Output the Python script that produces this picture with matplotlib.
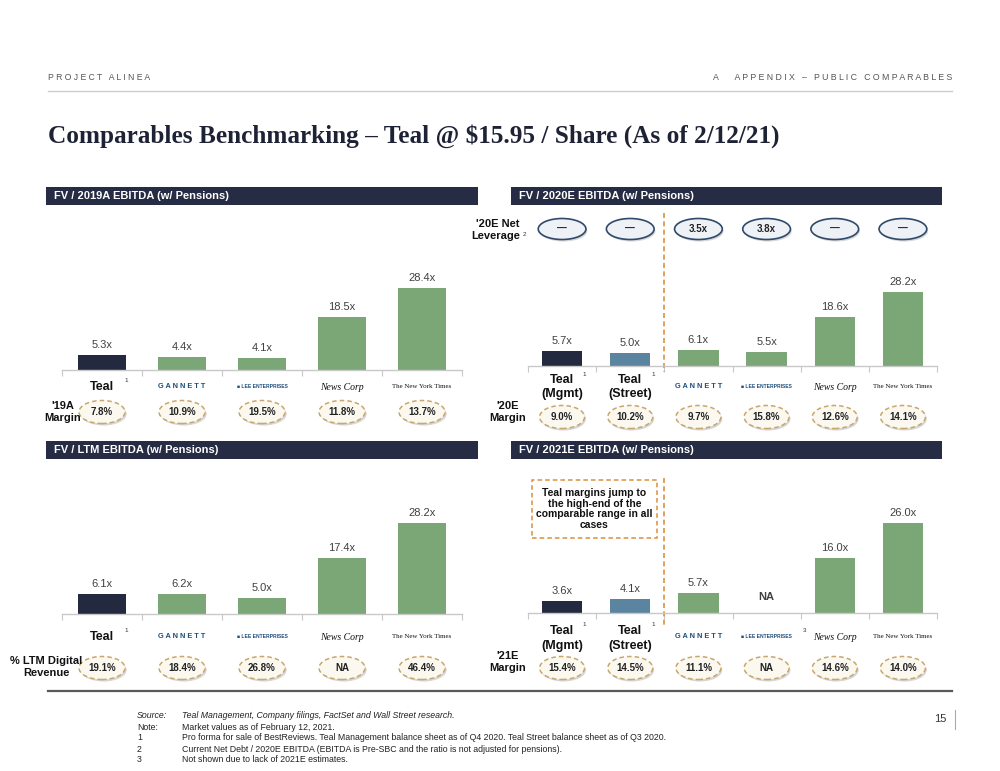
import numpy as np
import matplotlib.pyplot as plt
from matplotlib.patches import Ellipse, Rectangle
from matplotlib.lines import Line2D
from matplotlib.transforms import blended_transform_factory

# ---- data ----
fv_2019 = [5.3, 4.4, 4.1, 18.5, 28.4]
margin_2019 = ['7.8%', '10.9%', '19.5%', '11.8%', '13.7%']

fv_2020 = [5.7, 5.0, 6.1, 5.5, 18.6, 28.2]
leverage_2020 = ['—', '—', '3.5x', '3.8x', '—', '—']
margin_2020 = ['9.0%', '10.2%', '9.7%', '15.8%', '12.6%', '14.1%']

fv_ltm = [6.1, 6.2, 5.0, 17.4, 28.2]
digital_ltm = ['19.1%', '18.4%', '26.8%', 'NA', '46.4%']

fv_2021 = [3.6, 4.1, 5.7, np.nan, 16.0, 26.0]
margin_2021 = ['15.4%', '14.5%', '11.1%', 'NA', '14.6%', '14.0%']

peers = ['GANNETT', 'LEE ENTERPRISES', 'News Corp', 'The New York Times']

NAVY = '#232A40'
STREET = '#5B84A0'
GREEN = '#7BA776'
HEAD = '#262C43'
ORANGE = '#D9913E'
TAN = '#C9A66B'
GREY_TXT = '#404040'

NARROW = ['Liberation Sans Narrow', 'Liberation Sans', 'DejaVu Sans']
SANS = ['Liberation Sans', 'DejaVu Sans']

fig = plt.figure(figsize=(10, 7.71), dpi=100)
W, H = 1000, 771


def fx(px):
    return px / W


def fy(py):
    return 1 - py / H


# ---- page furniture ----
fig.text(fx(48), fy(77), ' '.join('PROJECT ALINEA'), fontsize=6.2, color='#555555',
         family=SANS, va='center', ha='left')
fig.text(fx(952), fy(77), ' '.join('A   APPENDIX – PUBLIC COMPARABLES'), fontsize=6.3,
         color='#555555', family=SANS, va='center', ha='right')
fig.add_artist(Line2D([fx(48), fx(952)], [fy(91), fy(91)], color='#cccccc', lw=1))
fig.text(fx(48), fy(136), 'Comparables Benchmarking – Teal @ $15.95 / Share (As of 2/12/21)',
         fontsize=18.2, color='#1e2235', family=['Liberation Serif', 'DejaVu Serif'],
         weight='bold', va='center', ha='left')

# panel header bars
headers = [(46, 478, 187, 'FV / 2019A EBITDA (w/ Pensions)'),
           (511, 942, 187, 'FV / 2020E EBITDA (w/ Pensions)'),
           (46, 478, 441, 'FV / LTM EBITDA (w/ Pensions)'),
           (511, 942, 441, 'FV / 2021E EBITDA (w/ Pensions)')]
for x0, x1, y0, txt in headers:
    fig.add_artist(Rectangle((fx(x0), fy(y0 + 18)), fx(x1 - x0), 18 / H,
                             facecolor=HEAD, edgecolor='none'))
    fig.text(fx(x0 + 8), fy(y0 + 9), txt, color='white', fontsize=8, weight='bold',
             family=SANS, va='center', ha='left')


def draw_logo(ax, i, ypx, name):
    tr = blended_transform_factory(ax.transData, fig.transFigure)
    if name == 'GANNETT':
        ax.text(i, fy(ypx), 'G A N N E T T', transform=tr, ha='center', va='center',
                fontsize=5.3, color='#1F4E79', family=SANS, weight='bold', clip_on=False)
    elif name == 'LEE ENTERPRISES':
        ax.text(i, fy(ypx), '\u25A0 LEE ENTERPRISES', transform=tr, ha='center', va='center',
                fontsize=3.6, color='#1F4E79', family=SANS, weight='bold', clip_on=False)
    elif name == 'News Corp':
        ax.text(i, fy(ypx), 'News Corp', transform=tr, ha='center', va='center',
                fontsize=7, color='#111111', family=['Liberation Serif', 'DejaVu Serif'],
                style='italic', clip_on=False)
    else:
        ax.text(i, fy(ypx), 'The New York Times', transform=tr, ha='center', va='center',
                fontsize=5, color='#111111', family=['Liberation Serif', 'DejaVu Serif'],
                clip_on=False)


def oval(ax, i, ypx, text, wdata, kind='margin'):
    tr = blended_transform_factory(ax.transData, fig.transFigure)
    hgt = 23 / H if kind == 'margin' else 21 / H
    shadow = Ellipse((i + 0.02, fy(ypx + 2)), wdata, hgt, transform=tr,
                     facecolor='#d6d6d6', edgecolor='none', clip_on=False, zorder=3)
    ax.add_patch(shadow)
    if kind == 'margin':
        e = Ellipse((i, fy(ypx)), wdata, hgt, transform=tr, facecolor='#FBF8F0',
                    edgecolor=TAN, lw=1.1, linestyle=(0, (3, 2)), clip_on=False, zorder=4)
    else:
        e = Ellipse((i, fy(ypx)), wdata, hgt, transform=tr, facecolor='#EEF1F5',
                    edgecolor='#2F4A6B', lw=1.2, clip_on=False, zorder=4)
    ax.add_patch(e)
    ax.text(i, fy(ypx), text, transform=tr, ha='center', va='center', fontsize=7,
            weight='bold', color='#222222', family=NARROW, clip_on=False, zorder=5)


def bar_panel(left, right, base, top, per_unit, values, colors, n):
    ax = fig.add_axes([fx(left), fy(base), fx(right - left), (base - top) / H])
    x = np.arange(n)
    vals = np.array(values, dtype=float)
    ax.bar(x, np.nan_to_num(vals), width=0.59, color=colors, zorder=2)
    for i, v in enumerate(vals):
        if np.isnan(v):
            ax.annotate('NA', (i, 0), xytext=(0, 8), textcoords='offset points',
                        ha='center', va='bottom', fontsize=8, weight='bold',
                        color=GREY_TXT, family=NARROW)
        else:
            ax.annotate(f'{v:.1f}x', (i, v), xytext=(0, 3.5), textcoords='offset points',
                        ha='center', va='bottom', fontsize=8, color=GREY_TXT, family=NARROW)
    ax.set_xlim(-0.5, n - 0.5)
    ax.set_ylim(0, (base - top) / per_unit)
    for s in ['top', 'right', 'left']:
        ax.spines[s].set_visible(False)
    ax.spines['bottom'].set_color('#c8c8c8')
    ax.spines['bottom'].set_linewidth(1)
    ax.set_yticks([])
    ax.set_xticks(np.arange(-0.5, n, 1.0))
    ax.tick_params(axis='x', length=4, color='#c8c8c8', labelbottom=False)
    ax.patch.set_alpha(0)
    return ax


def teal_label(ax, i, ypx, text):
    tr = blended_transform_factory(ax.transData, fig.transFigure)
    ax.text(i, fy(ypx), text, transform=tr, ha='center', va='center', fontsize=9,
            weight='bold', color='#111111', family=NARROW, clip_on=False)


def sup(ax, i, ypx, text):
    tr = blended_transform_factory(ax.transData, fig.transFigure)
    ax.text(i, fy(ypx), text, transform=tr, ha='center', va='center', fontsize=4.5,
            color='#333333', family=SANS, clip_on=False)


# ---- top-left: 2019A ----
ax1 = bar_panel(62, 462, 370, 210, 2.89, fv_2019, [NAVY] + [GREEN] * 4, 5)
teal_label(ax1, 0, 387, 'Teal')
sup(ax1, 0.3, 381, '1')
for k, p in enumerate(peers):
    draw_logo(ax1, k + 1, 387, p)
for i, m in enumerate(margin_2019):
    oval(ax1, i, 412, m, 0.575)
fig.text(fx(63), fy(412), "'19A\nMargin", ha='center', va='center', fontsize=8,
         weight='bold', family=NARROW, color='#111111', linespacing=1.15)

# ---- top-right: 2020E ----
ax2 = bar_panel(528, 937, 366, 250, 2.62, fv_2020, [NAVY, STREET] + [GREEN] * 4, 6)
teal_label(ax2, 0, 380, 'Teal')
teal_label(ax2, 0, 394, '(Mgmt)')
teal_label(ax2, 1, 380, 'Teal')
teal_label(ax2, 1, 394, '(Street)')
sup(ax2, 0.33, 374, '1')
sup(ax2, 1.33, 374, '1')
for k, p in enumerate(peers):
    draw_logo(ax2, k + 2, 387, p)
for i, m in enumerate(margin_2020):
    oval(ax2, i, 417, m, 0.66)
for i, lv in enumerate(leverage_2020):
    oval(ax2, i, 229, lv, 0.70, kind='lev')
tr2 = blended_transform_factory(ax2.transData, fig.transFigure)
ax2.add_line(Line2D([1.5, 1.5], [fy(213), fy(372)], transform=tr2, color=ORANGE,
                    lw=1.2, linestyle=(0, (3, 2)), clip_on=False))
fig.text(fx(508), fy(412), "'20E\nMargin", ha='center', va='center', fontsize=8,
         weight='bold', family=NARROW, color='#111111', linespacing=1.15)
fig.text(fx(520), fy(230), "'20E Net\nLeverage", ha='right', va='center', fontsize=8,
         weight='bold', family=NARROW, color='#111111', linespacing=1.15)
fig.text(fx(524), fy(235), '2', ha='center', va='center', fontsize=4.5, color='#333333',
         family=SANS)

# ---- bottom-left: LTM ----
ax3 = bar_panel(62, 462, 614, 470, 3.23, fv_ltm, [NAVY] + [GREEN] * 4, 5)
teal_label(ax3, 0, 637, 'Teal')
sup(ax3, 0.3, 631, '1')
for k, p in enumerate(peers):
    draw_logo(ax3, k + 1, 637, p)
for i, m in enumerate(digital_ltm):
    oval(ax3, i, 668, m, 0.575)
fig.text(fx(46), fy(667), '% LTM Digital\nRevenue', ha='center', va='center', fontsize=8,
         weight='bold', family=NARROW, color='#111111', linespacing=1.15)

# ---- bottom-right: 2021E ----
ax4 = bar_panel(528, 937, 613, 470, 3.46, fv_2021, [NAVY, STREET] + [GREEN] * 4, 6)
teal_label(ax4, 0, 631, 'Teal')
teal_label(ax4, 0, 646, '(Mgmt)')
teal_label(ax4, 1, 631, 'Teal')
teal_label(ax4, 1, 646, '(Street)')
sup(ax4, 0.33, 625, '1')
sup(ax4, 1.33, 625, '1')
for k, p in enumerate(peers):
    draw_logo(ax4, k + 2, 637, p)
sup(ax4, 3.55, 630, '3')
for i, m in enumerate(margin_2021):
    oval(ax4, i, 668, m, 0.66)
tr4 = blended_transform_factory(ax4.transData, fig.transFigure)
ax4.add_line(Line2D([1.5, 1.5], [fy(478), fy(625)], transform=tr4, color=ORANGE,
                    lw=1.2, linestyle=(0, (3, 2)), clip_on=False))
fig.add_artist(Rectangle((fx(532), fy(538)), fx(125), 58 / H, facecolor='white',
                         edgecolor=ORANGE, lw=1.1, linestyle=(0, (3, 2))))
fig.text(fx(594.5), fy(509), 'Teal margins jump to\nthe high-end of the\ncomparable range in all\ncases',
         ha='center', va='center', fontsize=7.5, weight='bold', family=NARROW,
         color='#111111', linespacing=1.1)
fig.text(fx(508), fy(662), "'21E\nMargin", ha='center', va='center', fontsize=8,
         weight='bold', family=NARROW, color='#111111', linespacing=1.15)

# ---- footer ----
fig.add_artist(Line2D([fx(48), fx(952)], [fy(691), fy(691)], color='#595959', lw=1.6))
notes = [('Source:', 'Teal Management, Company filings, FactSet and Wall Street research.', True),
         ('Note:', 'Market values as of February 12, 2021.', False),
         ('1', 'Pro forma for sale of BestReviews. Teal Management balance sheet as of Q4 2020. '
               'Teal Street balance sheet as of Q3 2020.', False),
         ('2', 'Current Net Debt / 2020E EBITDA (EBITDA is Pre-SBC and the ratio is not adjusted for pensions).', False),
         ('3', 'Not shown due to lack of 2021E estimates.', False)]
for k, (lab, txt, it) in enumerate(notes):
    yy = fy(716 + k * 11)
    st = 'italic' if it else 'normal'
    fig.text(fx(137), yy, lab, fontsize=6.3, family=NARROW, style=st, va='center', color='#222222')
    fig.text(fx(182), yy, txt, fontsize=6.3, family=NARROW, style=st, va='center', color='#222222')
fig.text(fx(946), fy(719), '15', fontsize=8, family=NARROW, ha='right', va='center', color='#333333')
fig.add_artist(Line2D([fx(955), fx(955)], [fy(710), fy(729)], color='#aaaaaa', lw=0.8))

fig.savefig('out.png', dpi=100)
